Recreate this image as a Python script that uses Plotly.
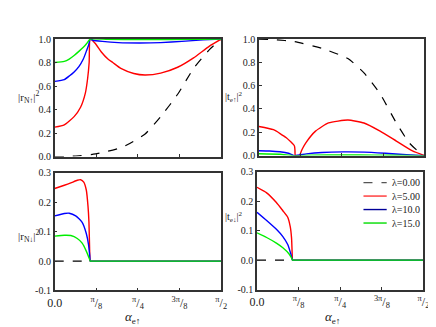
import numpy as np
import plotly.graph_objects as go

# incidence angle samples (rad), critical angle ~0.335
lam_names = ["λ=0.00", "λ=5.00", "λ=10.0", "λ=15.0"]
colors = ["black", "#ff0000", "#0000ff", "#00ee00"]
legend_colors = ["#555555", "#ff3333", "#000099", "#00dd00"]

# |r_N up|^2
rNu_x0 = [0.0, 0.09, 0.2, 0.365, 0.5, 0.64, 0.85, 1.0, 1.16, 1.31, 1.46, 1.5708]
rNu_y0 = [0.0, 0.0, 0.005, 0.02, 0.045, 0.08, 0.19, 0.34, 0.53, 0.75, 0.91, 1.0]
rNu_x5 = [0.0, 0.09, 0.183, 0.244, 0.289, 0.31, 0.325, 0.335, 0.381, 0.44, 0.502, 0.548, 0.624, 0.746, 0.852, 1.0, 1.16, 1.31, 1.46, 1.5708]
rNu_y5 = [0.25, 0.27, 0.34, 0.42, 0.54, 0.66, 0.8, 1.0, 0.965, 0.89, 0.83, 0.80, 0.75, 0.707, 0.694, 0.71, 0.76, 0.84, 0.94, 1.0]
rNu_x10 = [0.0, 0.09, 0.137, 0.183, 0.228, 0.27, 0.30, 0.32, 0.335, 0.36, 0.45, 0.6, 0.8, 1.0, 1.2, 1.4, 1.5708]
rNu_y10 = [0.64, 0.655, 0.685, 0.72, 0.765, 0.83, 0.9, 0.95, 1.0, 0.99, 0.98, 0.97, 0.967, 0.97, 0.98, 0.993, 1.0]
rNu_x15 = [0.0, 0.09, 0.137, 0.183, 0.228, 0.27, 0.30, 0.335, 0.5, 0.8, 1.1, 1.4, 1.5708]
rNu_y15 = [0.80, 0.81, 0.83, 0.86, 0.895, 0.93, 0.96, 1.0, 0.997, 0.995, 0.996, 0.998, 1.0]

# |t_e up|^2
teu_x0 = [0.0, 0.15, 0.337, 0.598, 0.844, 0.997, 1.15, 1.304, 1.426, 1.519, 1.5708]
teu_y0 = [1.0, 0.995, 0.978, 0.92, 0.833, 0.71, 0.53, 0.28, 0.11, 0.03, 0.0]
teu_x5 = [0.0, 0.138, 0.26, 0.337, 0.342, 0.345, 0.383, 0.41, 0.445, 0.537, 0.66, 0.844, 0.997, 1.15, 1.304, 1.457, 1.5708]
teu_y5 = [0.25, 0.222, 0.153, 0.083, 0.04, 0.0, 0.0, 0.055, 0.11, 0.21, 0.28, 0.305, 0.28, 0.21, 0.125, 0.04, 0.0]
teu_x10 = [0.0, 0.1, 0.2, 0.28, 0.335, 0.45, 0.6, 0.8, 1.0, 1.2, 1.4, 1.5708]
teu_y10 = [0.042, 0.04, 0.033, 0.02, 0.0, 0.015, 0.027, 0.032, 0.03, 0.02, 0.008, 0.0]
teu_x15 = [0.0, 0.2, 0.335, 0.5, 0.8, 1.1, 1.4, 1.5708]
teu_y15 = [0.016, 0.012, 0.0, 0.004, 0.005, 0.004, 0.002, 0.0]

# |r_N down|^2
rNd_x0 = [0.0, 0.335]
rNd_y0 = [0.0, 0.0]
rNd_x5 = [0.0, 0.091, 0.152, 0.213, 0.244, 0.274, 0.298, 0.314, 0.323, 0.329, 0.332, 0.335, 0.34, 0.4, 1.0, 1.5708]
rNd_y5 = [0.247, 0.258, 0.266, 0.275, 0.277, 0.269, 0.242, 0.187, 0.133, 0.045, 0.01, 0.0, 0.0, 0.0, 0.0, 0.0]
rNd_x10 = [0.0, 0.091, 0.137, 0.198, 0.259, 0.298, 0.319, 0.33, 0.335, 0.34, 0.4, 1.0, 1.5708]
rNd_y10 = [0.154, 0.162, 0.163, 0.154, 0.132, 0.094, 0.056, 0.02, 0.0, 0.0, 0.0, 0.0, 0.0]
rNd_x15 = [0.0, 0.091, 0.152, 0.213, 0.259, 0.298, 0.325, 0.335, 0.34, 0.4, 1.0, 1.5708]
rNd_y15 = [0.085, 0.088, 0.087, 0.077, 0.061, 0.034, 0.01, 0.0, 0.0, 0.0, 0.0, 0.0]

# |t_e down|^2
ted_x0 = [0.0, 0.335]
ted_y0 = [0.0, 0.0]
ted_x5 = [0.0, 0.091, 0.183, 0.244, 0.29, 0.314, 0.326, 0.332, 0.335, 0.34, 0.4, 1.0, 1.5708]
ted_y5 = [0.248, 0.229, 0.196, 0.168, 0.146, 0.113, 0.075, 0.02, 0.0, 0.0, 0.0, 0.0, 0.0]
ted_x10 = [0.0, 0.091, 0.183, 0.244, 0.29, 0.32, 0.335, 0.34, 0.4, 1.0, 1.5708]
ted_y10 = [0.163, 0.135, 0.105, 0.08, 0.053, 0.02, 0.0, 0.0, 0.0, 0.0, 0.0]
ted_x15 = [0.0, 0.091, 0.183, 0.244, 0.305, 0.325, 0.335, 0.34, 0.4, 1.0, 1.5708]
ted_y15 = [0.093, 0.077, 0.058, 0.042, 0.02, 0.008, 0.0, 0.0, 0.0, 0.0, 0.0]

x_tickvals = [0, np.pi / 8, np.pi / 4, 3 * np.pi / 8, np.pi / 2]
x_ticktext = ["0.0", "<sup>π</sup>/<sub>8</sub>", "<sup>π</sup>/<sub>4</sub>",
              "<sup>3π</sup>/<sub>8</sub>", "<sup>π</sup>/<sub>2</sub>"]
top_ticks = [0.0, 0.2, 0.4, 0.6, 0.8, 1.0]
top_text = ["0.0", "0.2", "0.4", "0.6", "0.8", "1.0"]
bot_ticks = [-0.1, 0.0, 0.1, 0.2, 0.3]
bot_text = ["-0.1", "0.0", "0.1", "0.2", "0.3"]

panels = [
    ("x", "y", [(rNu_x0, rNu_y0), (rNu_x5, rNu_y5), (rNu_x10, rNu_y10), (rNu_x15, rNu_y15)]),
    ("x2", "y2", [(teu_x0, teu_y0), (teu_x5, teu_y5), (teu_x10, teu_y10), (teu_x15, teu_y15)]),
    ("x3", "y3", [(rNd_x0, rNd_y0), (rNd_x5, rNd_y5), (rNd_x10, rNd_y10), (rNd_x15, rNd_y15)]),
    ("x4", "y4", [(ted_x0, ted_y0), (ted_x5, ted_y5), (ted_x10, ted_y10), (ted_x15, ted_y15)]),
]

fig = go.Figure()
for xa, ya, curves in panels:
    for i, (xs, ys) in enumerate(curves):
        fig.add_trace(go.Scatter(
            x=xs, y=ys, xaxis=xa, yaxis=ya, mode="lines",
            line=dict(color=colors[i], width=1.2 if i == 0 else 1.4,
                      dash="dash" if i == 0 else "solid",
                      shape="spline", smoothing=0.5),
            name=lam_names[i], showlegend=False,
        ))

W, H = 436, 327
def px(a, b, total):
    return [a / total, b / total]

font = dict(family="Liberation Serif, Times New Roman, serif", size=10, color="#222")
ax_common = dict(showline=True, mirror=True, linecolor="#333", linewidth=1.5,
                 ticks="inside", ticklen=3, tickcolor="#333", showgrid=False,
                 zeroline=False)
xfont = dict(family=font["family"], size=12, color="#222")

fig.update_layout(
    width=W, height=H, margin=dict(l=0, r=0, t=0, b=0),
    plot_bgcolor="white", paper_bgcolor="white", font=font, showlegend=False,
    xaxis=dict(domain=px(40, 212, W), anchor="y", range=[0, np.pi / 2],
               tickvals=x_tickvals, showticklabels=False, **ax_common),
    yaxis=dict(domain=[1 - 148 / H, 1 - 26 / H], anchor="x", range=[0, 1.0],
               tickvals=top_ticks, ticktext=top_text, tickfont=font, **ax_common),
    xaxis2=dict(domain=px(251, 422, W), anchor="y2", range=[0, np.pi / 2],
                tickvals=x_tickvals, showticklabels=False, **ax_common),
    yaxis2=dict(domain=[1 - 147 / H, 1 - 26 / H], anchor="x2", range=[0, 1.0],
                tickvals=top_ticks, ticktext=top_text, tickfont=font, **ax_common),
    xaxis3=dict(domain=px(40, 212, W), anchor="y3", range=[0, np.pi / 2],
                tickvals=x_tickvals, ticktext=x_ticktext, tickfont=xfont, **ax_common),
    yaxis3=dict(domain=[1 - 287 / H, 1 - 165 / H], anchor="x3", range=[-0.1, 0.3],
                tickvals=bot_ticks, ticktext=bot_text, tickfont=font, **ax_common),
    xaxis4=dict(domain=px(249, 421, W), anchor="y4", range=[0, np.pi / 2],
                tickvals=x_tickvals, ticktext=x_ticktext, tickfont=xfont, **ax_common),
    yaxis4=dict(domain=[1 - 286 / H, 1 - 164 / H], anchor="x4", range=[-0.1, 0.3],
                tickvals=bot_ticks, ticktext=bot_text, tickfont=font, **ax_common),
)

# hand-drawn legend inside the lower-right panel
for i, name in enumerate(lam_names):
    ly = 1 - (175 + 14 * i) / H
    fig.add_shape(type="line", xref="paper", yref="paper", x0=359 / W, x1=383 / W,
                  y0=ly, y1=ly, line=dict(color=legend_colors[i], width=1.4,
                                          dash="dash" if i == 0 else "solid"))
    fig.add_annotation(text=name, x=386 / W, y=ly, xref="paper", yref="paper",
                       xanchor="left", yanchor="middle", showarrow=False,
                       font=dict(family=font["family"], size=10, color="#222"))

labels = [
    ("|r<sub>N↑</sub>|<sup>2</sup>", 0, 86, 11),
    ("|t<sub>e↑</sub>|<sup>2</sup>", 214, 86, 10),
    ("|r<sub>N↓</sub>|<sup>2</sup>", 0, 230, 11),
    ("|t<sub>e↓</sub>|<sup>2</sup>", 214, 211, 10),
]
for txt, lx, ly, fs in labels:
    fig.add_annotation(text=txt, x=lx / W, y=1 - ly / H, xref="paper", yref="paper",
                       xanchor="left", yanchor="middle", showarrow=False,
                       font=dict(family=font["family"], size=fs, color="#222"))
for cx in (120, 327):
    fig.add_annotation(text="<i>α</i><sub>e↑</sub>", x=cx / W, y=1 - 315 / H,
                       xref="paper", yref="paper", xanchor="center", yanchor="middle",
                       showarrow=False, font=dict(family=font["family"], size=13, color="#222"))

fig.write_html("out.html")
